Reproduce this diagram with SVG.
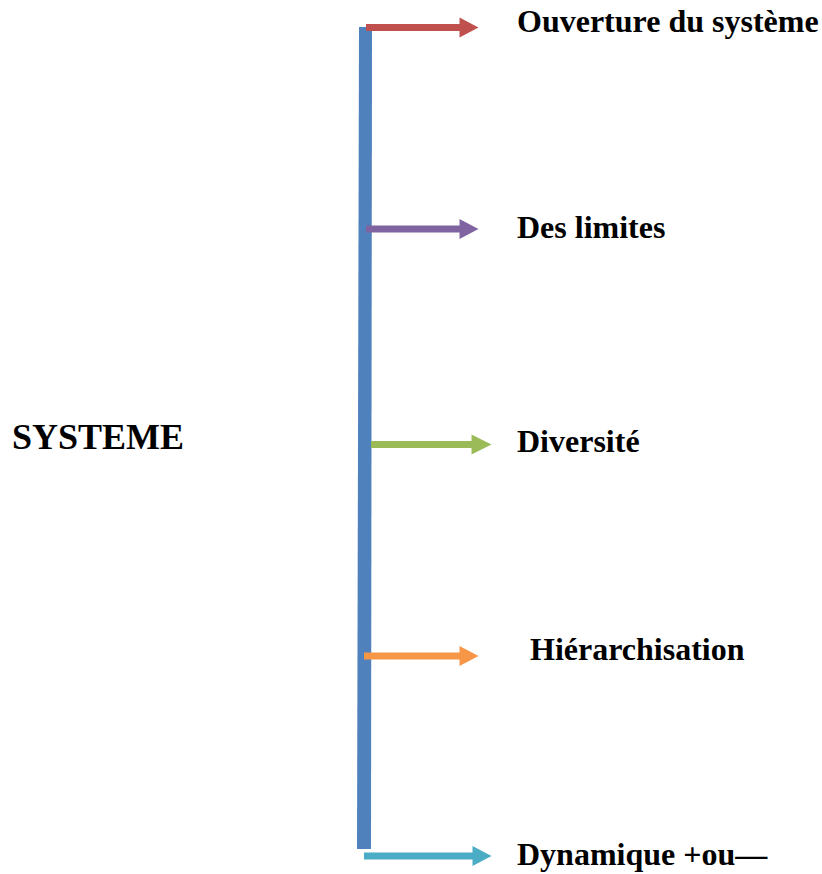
<svg xmlns="http://www.w3.org/2000/svg" width="822" height="874" viewBox="0 0 822 874">
  <style>
    .lbl { font-family: "Liberation Serif", "Times New Roman", serif; font-weight: bold; fill: #000; }
    .item { font-size: 32px; }
    .main { font-size: 36px; }
    .shaft { stroke-width: 7; fill: none; }
  </style>
  <defs>
    <marker id="hRed" markerUnits="userSpaceOnUse" markerWidth="20" markerHeight="20" refX="0.5" refY="10" orient="auto" overflow="visible">
      <path d="M0,0 L19,10 L0,20 Z" fill="#C0504D"/>
    </marker>
    <marker id="hPurple" markerUnits="userSpaceOnUse" markerWidth="20" markerHeight="20" refX="0.5" refY="10" orient="auto" overflow="visible">
      <path d="M0,0 L19,10 L0,20 Z" fill="#8064A2"/>
    </marker>
    <marker id="hGreen" markerUnits="userSpaceOnUse" markerWidth="20" markerHeight="20" refX="0.5" refY="10" orient="auto" overflow="visible">
      <path d="M0,0 L20,10 L0,20 Z" fill="#9BBB59"/>
    </marker>
    <marker id="hOrange" markerUnits="userSpaceOnUse" markerWidth="20" markerHeight="20" refX="0.5" refY="10" orient="auto" overflow="visible">
      <path d="M0,0 L19,10 L0,20 Z" fill="#F79646"/>
    </marker>
    <marker id="hCyan" markerUnits="userSpaceOnUse" markerWidth="20" markerHeight="20" refX="0.5" refY="10" orient="auto" overflow="visible">
      <path d="M0,0 L19,10 L0,20 Z" fill="#4BACC6"/>
    </marker>
  </defs>

  <g id="systeme">
    <text class="lbl main" x="12" y="449">SYSTEME</text>
    <polygon points="359,27 372,27 371,849 357,849" fill="#4F81BD"/>
  </g>

  <g id="connectors">
    <line class="shaft" x1="366" y1="27.5" x2="460" y2="27.5" stroke="#C0504D" marker-end="url(#hRed)"/>
    <line class="shaft" x1="366" y1="229" x2="460" y2="229" stroke="#8064A2" marker-end="url(#hPurple)"/>
    <line class="shaft" x1="371" y1="444.5" x2="472" y2="444.5" stroke="#9BBB59" marker-end="url(#hGreen)"/>
    <line class="shaft" x1="364" y1="656" x2="460" y2="656" stroke="#F79646" marker-end="url(#hOrange)"/>
    <line class="shaft" x1="364" y1="856" x2="473" y2="856" stroke="#4BACC6" marker-end="url(#hCyan)"/>
  </g>

  <g id="ouverture">
    <text class="lbl item" x="517" y="32">Ouverture du système</text>
  </g>
  <g id="limites">
    <text class="lbl item" x="517" y="238">Des limites</text>
  </g>
  <g id="diversite">
    <text class="lbl item" x="517" y="452">Diversité</text>
  </g>
  <g id="hierarchisation">
    <text class="lbl item" x="530" y="660">Hiérarchisation</text>
  </g>
  <g id="dynamique">
    <text class="lbl item" x="517" y="865">Dynamique +ou—</text>
  </g>
</svg>
